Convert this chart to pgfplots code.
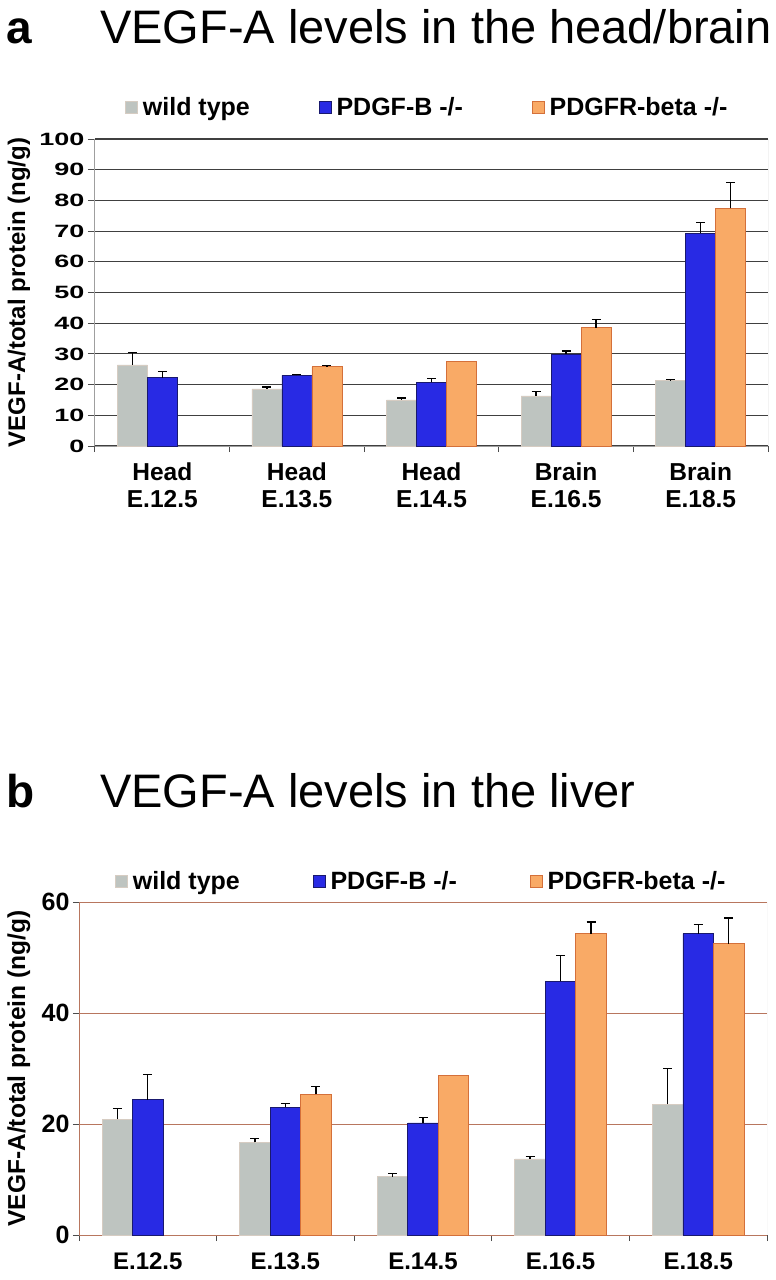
\documentclass[border=0pt]{standalone}
\usepackage{fontspec}
\setmainfont{Liberation Sans}
\usepackage{graphicx}
\usepackage{pgfplots}
\pgfplotsset{compat=1.18}
\definecolor{wtfill}{RGB}{190,196,192}
\definecolor{wtedge}{RGB}{214,204,194}
\definecolor{pbfill}{RGB}{40,42,228}
\definecolor{pbedge}{RGB}{25,25,110}
\definecolor{prfill}{RGB}{249,170,102}
\definecolor{predge}{RGB}{212,112,58}
\definecolor{gridb}{RGB}{184,118,94}
\pgfplotsset{
  mylegend/.style={legend image code/.code={\draw[##1, line width=0.7pt] (0pt,-6pt) rectangle (12pt,6pt);}},
  errs/.style={/pgfplots/error bars/y dir=plus, /pgfplots/error bars/y explicit,
    /pgfplots/error bars/error bar style={black, line width=1.3pt, xshift=#1},
    /pgfplots/error bars/error mark options={black, line width=1.3pt, mark size=4.5pt, rotate=90}},
}
\begin{document}
\begin{tikzpicture}
\useasboundingbox (0pt,-1280pt) rectangle (776pt,0pt);
% ---------- panel a ----------
\node[anchor=base west, inner sep=0pt] at (6pt,-43pt) {\fontsize{46}{46}\selectfont\bfseries a};
\node[anchor=base west, inner sep=0pt] at (100pt,-43pt) {\fontsize{47}{47}\selectfont VEGF-A levels in the head/brain};
\begin{axis}[
  at={(95pt,-446pt)}, anchor=south west,
  scale only axis, width=673pt, height=307pt,
  xmin=-0.5, xmax=4.5, ymin=0, ymax=100,
  axis lines*=left,
  axis line style={draw=gray!75, line width=1pt},
  ytick={0,10,...,100},
  ymajorgrids, grid style={draw=black!75, line width=1.1pt},
  tick align=outside, major tick length=7pt, minor tick length=6pt,
  tick style={draw=gray!60!black, line width=1pt},
  xtick={0,...,4},
  xticklabels={{Head\\E.12.5},{Head\\E.13.5},{Head\\E.14.5},{Brain\\E.16.5},{Brain\\E.18.5}},
  major x tick style={draw=none},
  minor xtick={-0.5,0.5,1.5,2.5,3.5,4.5},
  xticklabel style={align=center, font=\fontsize{24.5}{27}\selectfont\bfseries, yshift=-6pt},
  yticklabel={\scalebox{1}[0.66]{\pgfmathprintnumber[assume math mode=true]{\tick}}},
  yticklabel style={font=\fontsize{27}{27}\selectfont\bfseries},
  ylabel={VEGF-A/total protein (ng/g)},
  ylabel style={at={(axis description cs:-0.113,0.5)}, anchor=center, font=\fontsize{24}{24}\selectfont\bfseries},
  legend columns=3,
  legend style={at={(axis description cs:0.0446,1.104)}, anchor=west, draw=none, fill=none, inner sep=0pt,
    font=\fontsize{25}{25}\selectfont\bfseries, nodes={inner xsep=5pt},
    /tikz/every even column/.append style={column sep=64pt}},
]
\addplot[ybar, bar width=30pt, bar shift=-30pt, fill=wtfill, draw=wtedge, line width=0.8pt, mylegend, errs=-30pt]
  coordinates {(0,26.4) +- (0,4.1) (1,18.6) +- (0,0.6) (2,15.0) +- (0,0.6) (3,16.3) +- (0,1.4) (4,21.3) +- (0,0.4)};
\addlegendentry{wild type}
\addplot[ybar, bar width=30pt, bar shift=0pt, fill=pbfill, draw=pbedge, line width=0.8pt, mylegend, errs=0pt]
  coordinates {(0,22.2) +- (0,2.0) (1,23.0) +- (0,0.3) (2,20.7) +- (0,1.3) (3,29.9) +- (0,1.0) (4,69.3) +- (0,3.4)};
\addlegendentry{PDGF-B -/-}
\addplot[ybar, bar width=30pt, bar shift=30pt, fill=prfill, draw=predge, line width=0.8pt, mylegend, errs=30pt]
  coordinates {(1,25.8) +- (0,0.5) (3,38.5) +- (0,2.8) (4,77.4) +- (0,8.4)};
\addlegendentry{PDGFR-beta -/-}
\addplot[ybar, bar width=30pt, bar shift=30pt, fill=prfill, draw=predge, line width=0.8pt, forget plot]
  coordinates {(2,27.5)};
\draw[gray!75, line width=1pt] (rel axis cs:1,0) -- (rel axis cs:1,1);
\end{axis}
% ---------- panel b ----------
\node[anchor=base west, inner sep=0pt] at (6pt,-807pt) {\fontsize{46}{46}\selectfont\bfseries b};
\node[anchor=base west, inner sep=0pt] at (100pt,-807pt) {\fontsize{47}{47}\selectfont VEGF-A levels in the liver};
\begin{axis}[
  at={(79pt,-1235pt)}, anchor=south west,
  scale only axis, width=688pt, height=333pt,
  xmin=-0.5, xmax=4.5, ymin=0, ymax=60,
  axis lines*=left,
  axis line style={draw=gridb, line width=0.9pt},
  ytick={0,20,40,60},
  ymajorgrids, grid style={draw=gridb, line width=0.8pt},
  tick align=outside, major tick length=6pt, minor tick length=6pt,
  tick style={draw=black!70, line width=0.9pt},
  xtick={0,...,4},
  xticklabels={E.12.5,E.13.5,E.14.5,E.16.5,E.18.5},
  major x tick style={draw=none},
  minor xtick={-0.5,0.5,1.5,2.5,3.5,4.5},
  xticklabel style={align=center, font=\fontsize{24}{27}\selectfont\bfseries, yshift=-8pt},
  yticklabel={\pgfmathprintnumber[assume math mode=true]{\tick}},
  yticklabel style={font=\fontsize{25}{25}\selectfont\bfseries},
  ylabel={VEGF-A/total protein (ng/g)},
  ylabel style={at={(axis description cs:-0.0873,0.5)}, anchor=center, font=\fontsize{24.5}{24.5}\selectfont\bfseries},
  legend columns=3,
  legend style={at={(axis description cs:0.0523,1.062)}, anchor=west, draw=none, fill=none, inner sep=0pt,
    font=\fontsize{25}{25}\selectfont\bfseries, nodes={inner xsep=5pt},
    /tikz/every even column/.append style={column sep=68pt}},
]
\addplot[ybar, bar width=30.5pt, bar shift=-30.5pt, fill=wtfill, draw=wtedge, line width=0.8pt, mylegend, errs=-30.5pt]
  coordinates {(0,20.9) +- (0,1.9) (1,16.7) +- (0,0.7) (2,10.5) +- (0,0.6) (3,13.7) +- (0,0.4) (4,23.6) +- (0,6.4)};
\addlegendentry{wild type}
\addplot[ybar, bar width=30.5pt, bar shift=0pt, fill=pbfill, draw=pbedge, line width=0.8pt, mylegend, errs=0pt]
  coordinates {(0,24.4) +- (0,4.5) (1,23.0) +- (0,0.7) (2,20.2) +- (0,1.0) (3,45.7) +- (0,4.7) (4,54.3) +- (0,1.7)};
\addlegendentry{PDGF-B -/-}
\addplot[ybar, bar width=30.5pt, bar shift=30.5pt, fill=prfill, draw=predge, line width=0.8pt, mylegend, errs=30.5pt]
  coordinates {(1,25.4) +- (0,1.3) (3,54.3) +- (0,2.1) (4,52.5) +- (0,4.6)};
\addlegendentry{PDGFR-beta -/-}
\addplot[ybar, bar width=30.5pt, bar shift=30.5pt, fill=prfill, draw=predge, line width=0.8pt, forget plot]
  coordinates {(2,28.8)};
\draw[gray!35, line width=0.9pt] (rel axis cs:1,0) -- (rel axis cs:1,1);
\end{axis}
\end{tikzpicture}
\end{document}
